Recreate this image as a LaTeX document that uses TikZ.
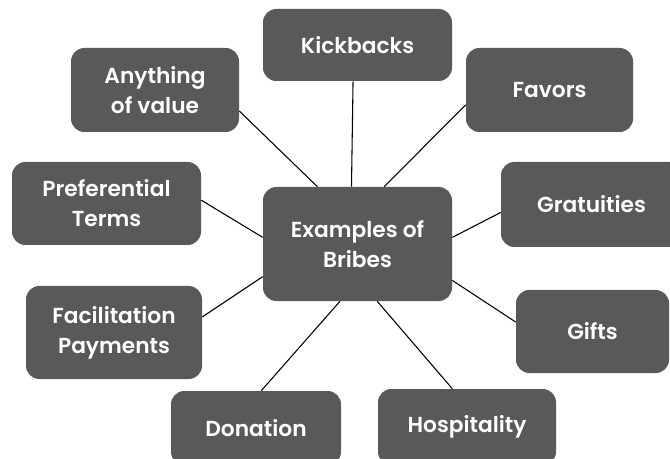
\documentclass[tikz,border=0pt]{standalone}
\usepackage{fontspec}
\setmainfont{Poppins}[BoldFont={Poppins SemiBold}]
\definecolor{boxgrey}{HTML}{595959}
\begin{document}
\begin{tikzpicture}[x=0.75pt,y=-0.75pt,
  bribe/.style={fill=boxgrey,rounded corners=10pt,text=white,align=center,
    font=\fontsize{16.3}{22.5}\selectfont\bfseries,inner sep=0pt},
  link/.style={line width=0.8pt}]
\useasboundingbox (0,0) rectangle (670,459);
\clip (0,0) rectangle (670,459);

%Boxes
\node[bribe,minimum width=189*0.75pt,minimum height=114*0.75pt] (bribes) at (357.5,244) {Examples of\\Bribes};
\node[bribe,minimum width=189*0.75pt,minimum height=72*0.75pt] (kickbacks) at (357.5,45) {Kickbacks};
\node[bribe,minimum width=168*0.75pt,minimum height=84*0.75pt] (anything) at (155,90) {Anything\\of value};
\node[bribe,minimum width=167*0.75pt,minimum height=84*0.75pt] (favors) at (549.5,90) {Favors};
\node[bribe,minimum width=189*0.75pt,minimum height=83*0.75pt] (terms) at (106.5,203.5) {Preferential\\Terms};
\node[bribe,minimum width=181*0.75pt,minimum height=85*0.75pt] (gratuities) at (591.5,204.5) {Gratuities};
\node[bribe,minimum width=176*0.75pt,minimum height=93*0.75pt] (facilitation) at (114,332.5) {Facilitation\\Payments};
\node[bribe,minimum width=153*0.75pt,minimum height=83*0.75pt] (gifts) at (592.5,331.5) {Gifts};
\node[bribe,minimum width=170*0.75pt,minimum height=74*0.75pt] (donation) at (256,428) {Donation};
\node[bribe,minimum width=178*0.75pt,minimum height=76*0.75pt] (hospitality) at (467,427) {Hospitality};

%Links
\draw[link] (anything.-14) -- (bribes.125);
\draw[link] (terms.2) -- (bribes.176);
\draw[link] (kickbacks.-97) -- (bribes.96.5);
\draw[link] (favors.190.8) -- (bribes.65);
\draw[link] (gratuities.185.4) -- (bribes.4.8);
\draw[link] (facilitation.10.6) -- (bribes.199.3);
\draw[link] (gifts.173.7) -- (bribes.-21.4);
\draw[link] (donation.82.3) -- (bribes.-107.1);
\draw[link] (hospitality.111.5) -- (bribes.-71.1);
\end{tikzpicture}
\end{document}
